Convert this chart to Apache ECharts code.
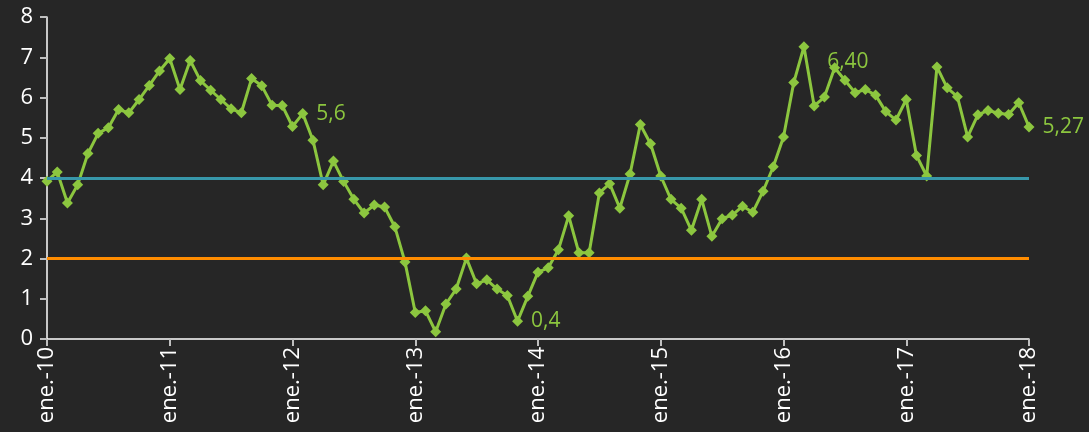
<!DOCTYPE html>
<html>
<head>
<meta charset="utf-8">
<script src="https://cdn.jsdelivr.net/npm/echarts@6/dist/echarts.min.js"></script>
<style>
  html, body { margin: 0; padding: 0; background: #262626; }
  #chart { width: 1089px; height: 432px; }
</style>
</head>
<body>
<div id="chart"></div>
<script>
// month names and years for the category axis
const monthNames = ['ene.', 'feb.', 'mar.', 'abr.', 'may.', 'jun.', 'jul.', 'ago.', 'sep.', 'oct.', 'nov.', 'dic.']
const years = ['10', '11', '12', '13', '14', '15', '16', '17', '18']

const categories = []
years.forEach((y, i) => {
  monthNames.forEach((m, j) => {
    if (i === years.length - 1 && j > 0) return
    categories.push(m + '-' + y)
  })
})

// monthly values, ene.-10 .. ene.-18
const values = [
  3.92, 4.15, 3.38, 3.83, 4.61, 5.11, 5.25, 5.70, 5.62, 5.95, 6.30, 6.66,
  6.97, 6.20, 6.92, 6.42, 6.18, 5.95, 5.72, 5.62, 6.47, 6.29, 5.81, 5.80,
  5.28, 5.60, 4.94, 3.83, 4.42, 3.91, 3.47, 3.13, 3.33, 3.28, 2.79, 1.91,
  0.66, 0.70, 0.18, 0.87, 1.24, 2.01, 1.37, 1.47, 1.24, 1.08, 0.44, 1.06,
  1.66, 1.77, 2.22, 3.06, 2.14, 2.14, 3.63, 3.86, 3.25, 4.10, 5.33, 4.85,
  4.05, 3.47, 3.25, 2.70, 3.47, 2.55, 2.99, 3.08, 3.30, 3.15, 3.67, 4.28,
  5.02, 6.37, 7.26, 5.79, 6.01, 6.74, 6.43, 6.12, 6.20, 6.06, 5.65, 5.44,
  5.95, 4.56, 4.05, 6.76, 6.24, 6.02, 5.02, 5.57, 5.68, 5.61, 5.58, 5.87,
  5.27
]

// annotated points: index -> label text and position
const labelIdx = [25, 46, 78, 96]
const labelText = ['5,6', '0,4', '6,40', '5,27']
const labelPos = ['right', 'right', 'top', 'right']

// target band lines
const refLines = [4, 2]
const refColors = ['#3797AA', '#FF8C00']

const green = '#8CC63F'

const chart = echarts.init(document.getElementById('chart'))

const seriesData = values.map((v, i) => {
  const k = labelIdx.indexOf(i)
  if (k < 0) return v
  return {
    value: v,
    label: {
      show: true,
      formatter: labelText[k],
      position: labelPos[k],
      distance: labelPos[k] === 'top' ? 2 : 8,
      offset: labelPos[k] === 'top' ? [3, 0] : [0, 0],
      color: green,
      fontSize: 21,
      fontFamily: 'Open Sans'
    }
  }
})

const option = {
  backgroundColor: '#262626',
  animation: false,
  grid: {
    left: 47,
    right: 60,
    top: 17,
    bottom: 93,
    containLabel: false
  },
  xAxis: {
    type: 'category',
    boundaryGap: false,
    data: categories,
    axisLine: { lineStyle: { color: '#ffffff', width: 1.5 } },
    axisTick: {
      alignWithLabel: true,
      interval: (i) => i % 12 === 0,
      length: 7,
      lineStyle: { color: '#bfbfbf', width: 2 }
    },
    axisLabel: {
      interval: (i) => i % 12 === 0,
      rotate: 90,
      color: '#ffffff',
      fontSize: 22,
      fontFamily: 'Open Sans',
      margin: 8
    },
    splitLine: { show: false }
  },
  yAxis: {
    type: 'value',
    min: 0,
    max: 8,
    interval: 1,
    axisLine: { show: true, lineStyle: { color: '#ffffff', width: 1.5 } },
    axisTick: { show: true, length: 7, lineStyle: { color: '#bfbfbf', width: 2 } },
    axisLabel: {
      color: '#ffffff',
      fontSize: 22,
      fontFamily: 'Open Sans',
      margin: 14
    },
    splitLine: { show: false }
  },
  series: [
    {
      name: 'valor',
      type: 'line',
      data: seriesData,
      symbol: 'diamond',
      symbolSize: 11,
      showSymbol: true,
      showAllSymbol: true,
      lineStyle: { color: green, width: 3 },
      itemStyle: { color: green },
      z: 2
    },
    {
      name: 'rango',
      type: 'line',
      data: [],
      z: 5,
      markLine: {
        silent: true,
        symbol: 'none',
        label: { show: false },
        data: refLines.map((v, i) => ({
          yAxis: v,
          lineStyle: { color: refColors[i], width: 3, type: 'solid' }
        }))
      }
    }
  ]
}

chart.setOption(option)
</script>
</body>
</html>
